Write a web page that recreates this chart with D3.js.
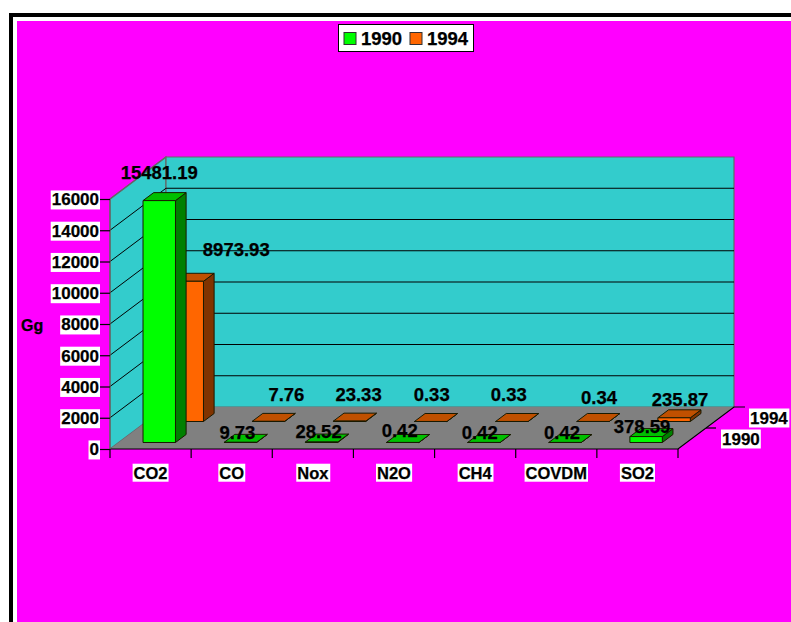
<!DOCTYPE html>
<html>
<head>
<meta charset="utf-8">
<script src="https://cdn.jsdelivr.net/npm/d3@7"></script>
<style>
html,body{margin:0;padding:0;background:#fff;overflow:hidden}
text{font-family:"Liberation Sans",Arial,sans-serif;font-weight:bold;fill:#000;stroke:#000;stroke-width:0.25px}
</style>
</head>
<body>
<svg id="c" width="791" height="622"></svg>
<script>
const categories = ["CO2","CO","Nox","N2O","CH4","COVDM","SO2"];
const seriesNames = ["1990","1994"];
const values1990 = [15481.19,9.73,28.52,0.42,0.42,0.42,378.59];
const values1994 = [8973.93,7.76,23.33,0.33,0.33,0.34,235.87];
const valueTicks = [0,2000,4000,6000,8000,10000,12000,14000,16000];
// label nudges (dx, dy in px) from the top centre of each bar's front face
const nudge1990 = [[0,-27.5],[-3,-9.5],[-3,-10.5],[-3,-11.5],[-4,-9.5],[-3,-9.5],[-4,-10]];
const nudge1994 = [[49,-31],[18,-26],[9,-26],[1,-26],[-3,-26],[6,-23],[6,-18]];

const svg = d3.select("#c");
const GREEN={front:"#00ff00",top:"#00c000",side:"#008000"};
const ORANGE={front:"#ff6600",top:"#c05000",side:"#803300"};
const palette={"1990":GREEN,"1994":ORANGE};
const DX=56, DY=-42;

const x = d3.scaleBand().domain(categories).range([110,678]);
const xBar = d3.scaleBand().domain(categories).range([110,678]).paddingInner(0.6).paddingOuter(0.3);
const y = d3.scaleLinear().domain([0,16000]).range([449,199]);
const depth = d3.scaleBand().domain(seriesNames).range([0,1]).paddingInner(0.62).paddingOuter(0.31);
const P = (px,py,d)=>[px+d*DX,py+d*DY];
const path = pts => "M"+pts.map(p=>p.join(",")).join("L")+"Z";

// background and frame
svg.append("rect").attr("x",9).attr("y",13).attr("width",782).attr("height",609).attr("fill","#000");
svg.append("rect").attr("x",13).attr("y",17).attr("width",778).attr("height",605).attr("fill","#fff");
svg.append("rect").attr("x",17).attr("y",21).attr("width",774).attr("height",601).attr("fill","#ff00ff");

const x0=110,x1=678,y0=y(0),yT=y(16000);
// walls and floor
svg.append("path").attr("d",path([P(x0,y0,0),P(x0,yT,0),P(x0,yT,1),P(x0,y0,1)])).attr("fill","#33cccc").attr("stroke","#666").attr("stroke-width",1.2);
svg.append("path").attr("d",path([P(x0,y0,1),P(x0,yT,1),P(x1,yT,1),P(x1,y0,1)])).attr("fill","#33cccc").attr("stroke","#666").attr("stroke-width",1.2);
svg.append("path").attr("d",path([P(x0,y0,0),P(x1,y0,0),P(x1,y0,1),P(x0,y0,1)])).attr("fill","#808080");
// gridlines
valueTicks.filter(v=>v>0&&v<16000).forEach(v=>{
  svg.append("polyline").attr("fill","none").attr("stroke","#000").attr("stroke-width",1)
    .attr("points",[P(x0,y(v),0),P(x0,y(v),1),P(x1,y(v),1)].map(p=>p.join(",")).join(" "));
});
svg.append("line").attr("x1",P(x0,yT,0)[0]).attr("y1",yT).attr("x2",P(x0,yT,1)[0]).attr("y2",P(x0,yT,1)[1]).attr("stroke","#666").attr("stroke-width",1.2);
// floor edges
svg.append("path").attr("fill","none").attr("stroke","#000").attr("stroke-width",1.2)
  .attr("d","M"+P(x0,y0,0)+"L"+P(x1,y0,0)+"L"+P(x1,y0,1)+"L"+[P(x1,y0,1)[0]+11,P(x1,y0,1)[1]]);
svg.append("line").attr("stroke","#000").attr("stroke-width",1.2)
  .attr("x1",P(x1,y0,.5)[0]).attr("y1",P(x1,y0,.5)[1]).attr("x2",P(x1,y0,.5)[0]+10).attr("y2",P(x1,y0,.5)[1]);
svg.append("line").attr("stroke","#666").attr("stroke-width",1.2).attr("x1",x0).attr("x2",x0).attr("y1",yT).attr("y2",y0);

// bars, back row first
const series=[{name:"1994",values:values1994,nudge:nudge1994},{name:"1990",values:values1990,nudge:nudge1990}];
series.forEach(s=>{
  const c=palette[s.name], d0=depth(s.name), d1=d0+depth.bandwidth();
  const g=svg.append("g");
  s.values.forEach((v,i)=>{
    const l=xBar(categories[i]), r=l+xBar.bandwidth(), t=y(v), b=y(0);
    const part=(pts,fill)=>g.append("path").attr("d",path(pts)).attr("fill",fill).attr("stroke","#1a1a00").attr("stroke-width",1).attr("stroke-linejoin","round");
    part([P(r,b,d0),P(r,t,d0),P(r,t,d1),P(r,b,d1)],c.side);
    part([P(l,t,d0),P(r,t,d0),P(r,t,d1),P(l,t,d1)],c.top);
    part([P(l,b,d0),P(r,b,d0),P(r,t,d0),P(l,t,d0)],c.front);
  });
});

// axes
function boxed(sel){
  sel.each(function(){
    const b=this.getBBox();
    d3.select(this.parentNode).insert("rect","text")
      .attr("x",b.x-1).attr("y",b.y).attr("width",b.width+2).attr("height",b.height).attr("fill","#fff");
  });
}
const yAxis=svg.append("g").attr("transform","translate(110,0)")
  .call(d3.axisLeft(y).tickValues(valueTicks).tickFormat(d3.format("d")).tickSize(10).tickPadding(1));
yAxis.select(".domain").remove();
yAxis.selectAll(".tick line").attr("stroke","#000").attr("stroke-width",1.2);
yAxis.selectAll("text").style("font-size","17px").attr("dy","0.35em");
boxed(yAxis.selectAll("text"));

const xAxis=svg.append("g").attr("transform","translate(0,449)")
  .call(d3.axisBottom(x).tickSize(0).tickPadding(18));
xAxis.select(".domain").remove();
xAxis.selectAll("text").style("font-size","16.5px");
boxed(xAxis.selectAll("text"));
svg.append("g").selectAll("line").data(categories.concat(["end"])).join("line")
  .attr("x1",(d,i)=>x0+i*x.bandwidth()).attr("x2",(d,i)=>x0+i*x.bandwidth())
  .attr("y1",449).attr("y2",458).attr("stroke","#000").attr("stroke-width",1.2);

// depth axis labels
seriesNames.forEach((n,i)=>{
  const g=svg.append("g");
  const p=P(x1,y0,(i+.5)/2);
  const t=g.append("text").attr("x",p[0]+30).attr("y",p[1]+6).text(n).style("font-size","17px");
  boxed(t);
});

// value labels
series.forEach(s=>{
  const d0=depth(s.name);
  s.values.forEach((v,i)=>{
    const l=xBar(categories[i]);
    const p=P(l+xBar.bandwidth()/2,y(v),d0);
    svg.append("text").attr("x",p[0]+s.nudge[i][0]).attr("y",p[1]+s.nudge[i][1]+6)
      .attr("text-anchor","middle").style("font-size","18.5px").text(String(v));
  });
});

svg.append("text").attr("x",21).attr("y",331).style("font-size","16px").text("Gg");

// legend
const lg=svg.append("g");
lg.append("rect").attr("x",338.5).attr("y",24.5).attr("width",135).attr("height",27).attr("fill","#fff").attr("stroke","#000");
const swatchX=d3.scaleOrdinal().domain(seriesNames).range([344,410]);
seriesNames.forEach(n=>{
  lg.append("rect").attr("x",swatchX(n)).attr("y",32.5).attr("width",12).attr("height",12).attr("fill",palette[n].front).attr("stroke","#333");
  lg.append("text").attr("x",swatchX(n)+17).attr("y",45).style("font-size","18.5px").text(n);
});
</script>
</body>
</html>
